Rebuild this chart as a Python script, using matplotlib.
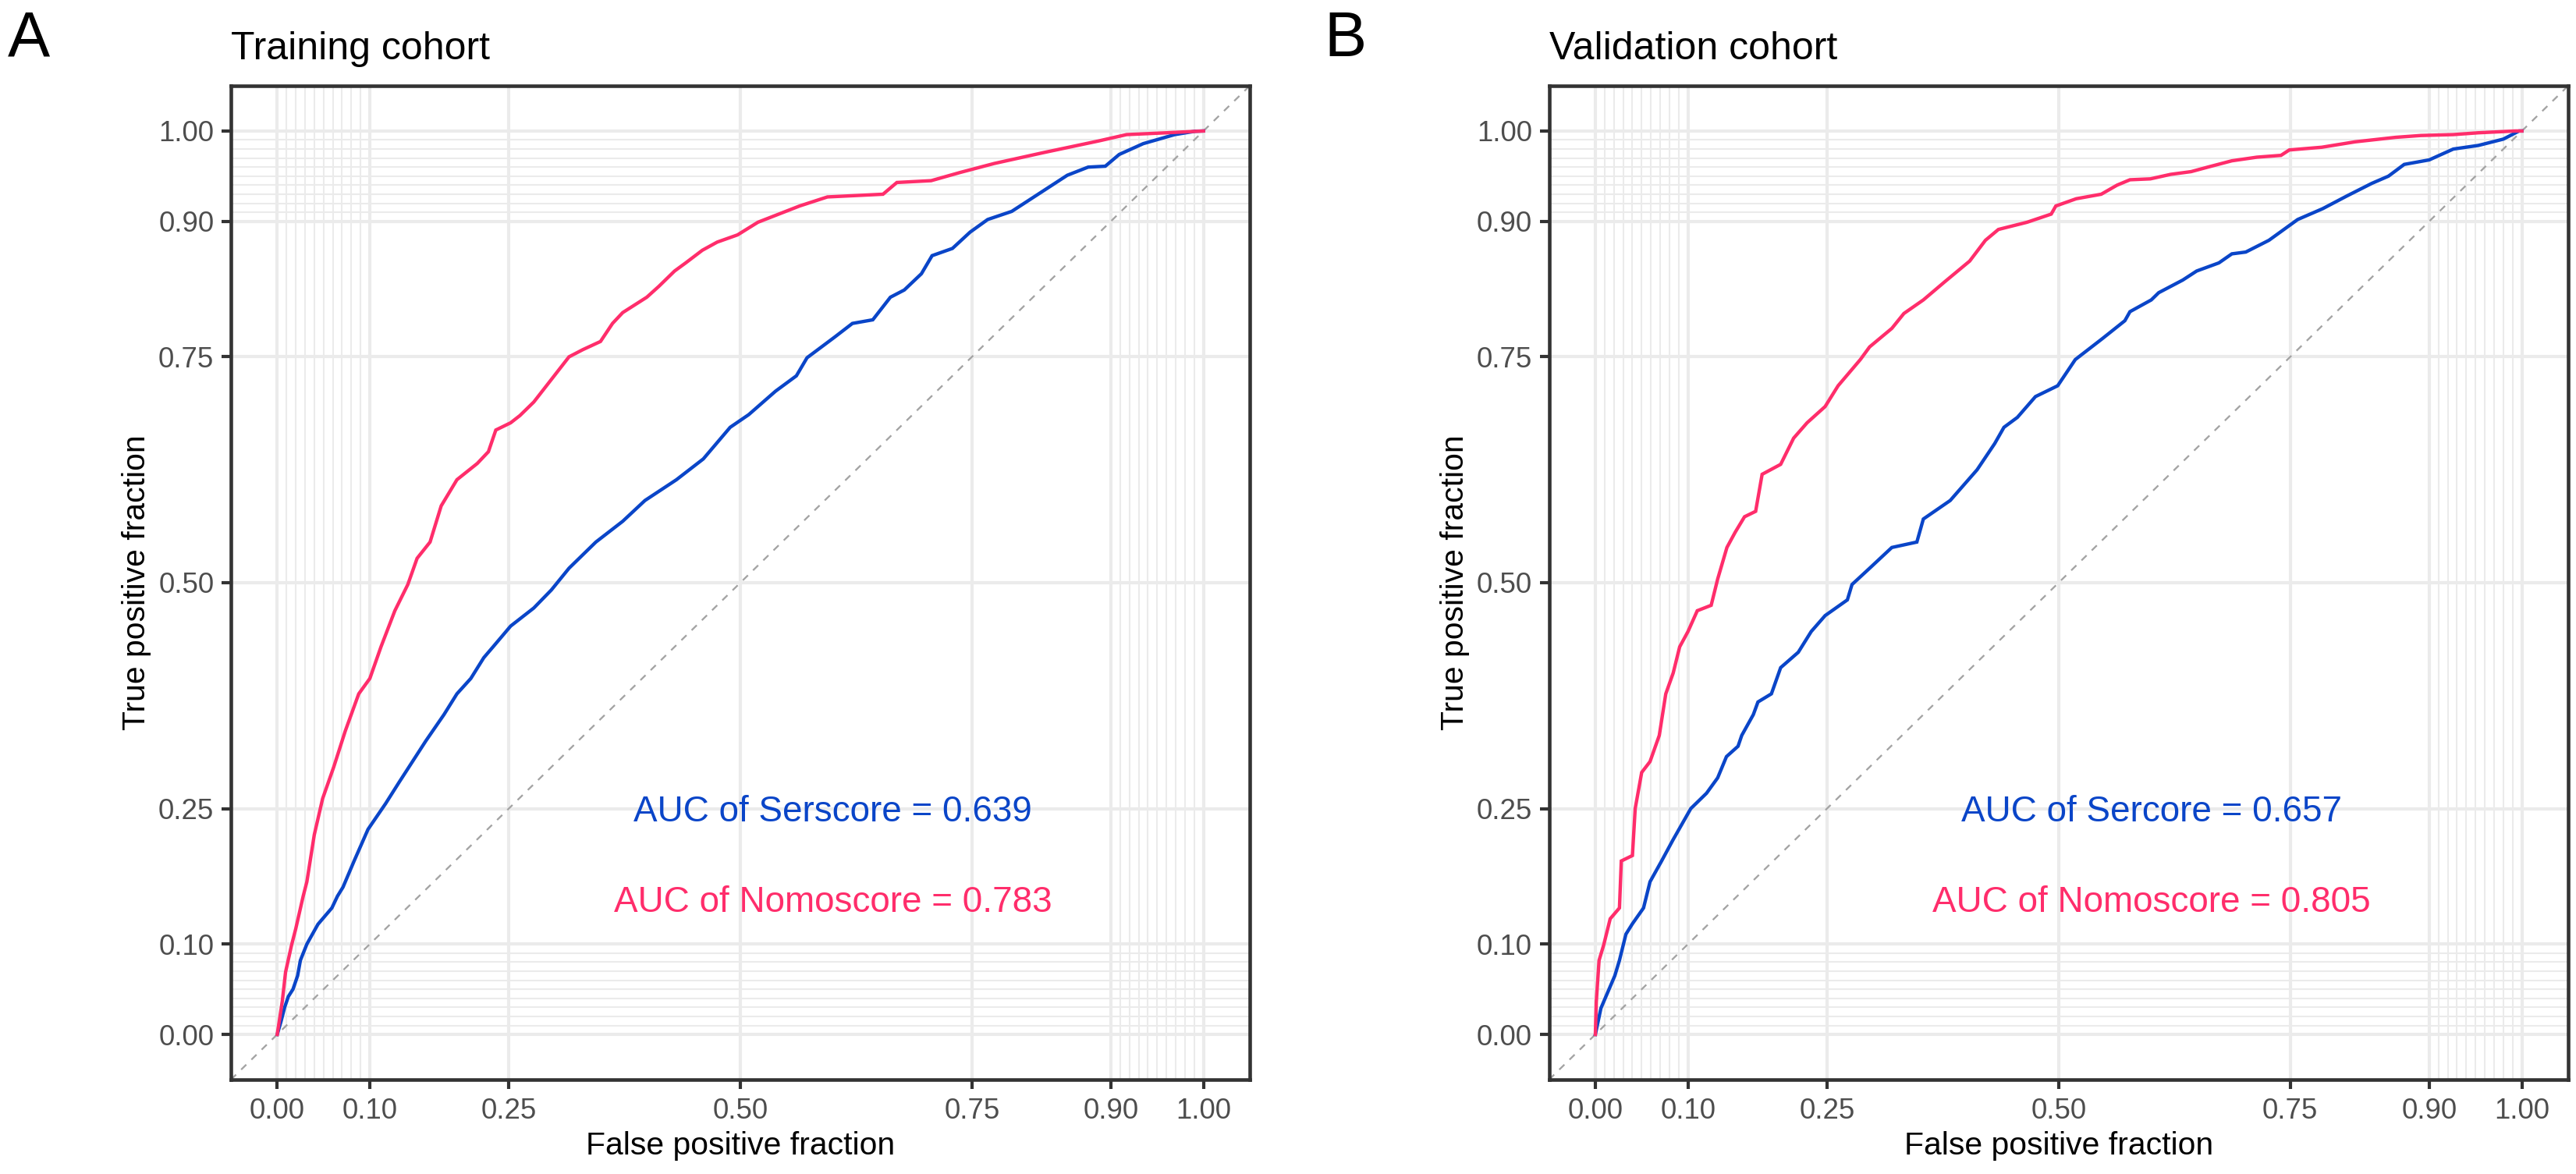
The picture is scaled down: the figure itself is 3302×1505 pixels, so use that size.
import matplotlib
matplotlib.use("Agg")
import matplotlib.pyplot as plt
from matplotlib import transforms

plt.rcParams['font.family'] = ['Liberation Sans', 'DejaVu Sans']

# ---------------- data ----------------
major_breaks = [0.0, 0.10, 0.25, 0.50, 0.75, 0.90, 1.00]
tick_labels = ['0.00', '0.10', '0.25', '0.50', '0.75', '0.90', '1.00']
minor_breaks = [0.00, 0.01, 0.02, 0.03, 0.04, 0.05, 0.06, 0.07, 0.08, 0.09, 0.10,
                0.90, 0.91, 0.92, 0.93, 0.94, 0.95, 0.96, 0.97, 0.98, 0.99, 1.00]

panel_letters = ['A', 'B']
panel_titles = ['Training cohort', 'Validation cohort']
auc_ser_labels = ['AUC of Serscore = 0.639', 'AUC of Sercore = 0.657']
auc_nomo_labels = ['AUC of Nomoscore = 0.783', 'AUC of Nomoscore = 0.805']

# Training cohort - Nomoscore (false positive fraction, true positive fraction)
train_nomo_fpf = [0.0, 0.0055, 0.009, 0.0155, 0.020, 0.028, 0.032, 0.040, 0.049, 0.061,
                  0.0735, 0.088, 0.100, 0.112, 0.127, 0.141, 0.151, 0.165, 0.177, 0.194,
                  0.216, 0.228, 0.236, 0.252, 0.262, 0.277, 0.296, 0.315, 0.330, 0.349,
                  0.362, 0.373, 0.399, 0.412, 0.429, 0.441, 0.459, 0.475, 0.497, 0.519,
                  0.564, 0.594, 0.654, 0.669, 0.706, 0.737, 0.774, 0.827, 0.887, 0.917,
                  0.960, 1.0]
train_nomo_tpf = [0.0, 0.037, 0.069, 0.099, 0.117, 0.153, 0.169, 0.221, 0.261, 0.296,
                  0.336, 0.377, 0.394, 0.429, 0.469, 0.498, 0.527, 0.545, 0.585, 0.614,
                  0.632, 0.645, 0.669, 0.677, 0.685, 0.700, 0.725, 0.750, 0.758, 0.767,
                  0.787, 0.799, 0.816, 0.828, 0.845, 0.854, 0.868, 0.877, 0.885, 0.899,
                  0.917, 0.927, 0.930, 0.943, 0.945, 0.954, 0.964, 0.976, 0.989, 0.996,
                  0.998, 1.0]

# Training cohort - Serscore
train_ser_fpf = [0.0, 0.004, 0.008, 0.012, 0.017, 0.022, 0.025, 0.032, 0.044, 0.059,
                 0.065, 0.071, 0.083, 0.098, 0.117, 0.1315, 0.146, 0.1605, 0.180, 0.194,
                 0.209, 0.223, 0.233, 0.252, 0.277, 0.296, 0.315, 0.344, 0.373, 0.397,
                 0.431, 0.460, 0.489, 0.509, 0.538, 0.5605, 0.572, 0.602, 0.621, 0.643,
                 0.662, 0.677, 0.6955, 0.707, 0.729, 0.748, 0.767, 0.793, 0.823, 0.853,
                 0.8755, 0.894, 0.909, 0.935, 0.969, 0.991, 1.0]
train_ser_tpf = [0.0, 0.014, 0.030, 0.042, 0.050, 0.065, 0.082, 0.100, 0.122, 0.140,
                 0.153, 0.163, 0.192, 0.227, 0.2555, 0.279, 0.302, 0.325, 0.354, 0.377,
                 0.394, 0.417, 0.429, 0.452, 0.472, 0.492, 0.516, 0.545, 0.568, 0.591,
                 0.614, 0.637, 0.672, 0.686, 0.712, 0.729, 0.749, 0.772, 0.787, 0.791,
                 0.816, 0.824, 0.842, 0.862, 0.870, 0.888, 0.902, 0.911, 0.931, 0.951,
                 0.960, 0.961, 0.974, 0.986, 0.996, 0.9997, 1.0]

# Validation cohort - Nomoscore
valid_nomo_fpf = [0.0, 0.001, 0.004, 0.009, 0.016, 0.026, 0.028, 0.040, 0.043, 0.050,
                  0.059, 0.069, 0.076, 0.084, 0.091, 0.100, 0.110, 0.125, 0.132, 0.142,
                  0.151, 0.161, 0.173, 0.180, 0.200, 0.214, 0.2285, 0.248, 0.262, 0.286,
                  0.296, 0.320, 0.333, 0.354, 0.377, 0.404, 0.421, 0.435, 0.466, 0.492,
                  0.497, 0.519, 0.546, 0.563, 0.577, 0.599, 0.621, 0.643, 0.661, 0.687,
                  0.714, 0.740, 0.749, 0.784, 0.820, 0.864, 0.891, 0.926, 0.953, 0.993,
                  1.0]
valid_nomo_tpf = [0.0, 0.036, 0.082, 0.099, 0.128, 0.140, 0.192, 0.198, 0.250, 0.290,
                  0.302, 0.331, 0.377, 0.400, 0.429, 0.446, 0.469, 0.475, 0.504, 0.539,
                  0.556, 0.573, 0.579, 0.620, 0.631, 0.660, 0.677, 0.695, 0.718, 0.747,
                  0.761, 0.7815, 0.798, 0.813, 0.833, 0.856, 0.879, 0.891, 0.899, 0.908,
                  0.917, 0.925, 0.930, 0.940, 0.946, 0.947, 0.952, 0.955, 0.960, 0.967,
                  0.971, 0.973, 0.979, 0.982, 0.988, 0.993, 0.995, 0.996, 0.998, 1.0,
                  1.0]

# Validation cohort - Sercore
valid_ser_fpf = [0.0, 0.006, 0.016, 0.021, 0.026, 0.033, 0.040, 0.052, 0.059, 0.0715,
                 0.0836, 0.103, 0.120, 0.132, 0.1415, 0.154, 0.158, 0.1705, 0.1755, 0.190,
                 0.200, 0.219, 0.233, 0.248, 0.272, 0.277, 0.296, 0.320, 0.347, 0.354,
                 0.383, 0.412, 0.431, 0.441, 0.4555, 0.475, 0.499, 0.518, 0.547, 0.5715,
                 0.577, 0.600, 0.608, 0.634, 0.649, 0.673, 0.687, 0.702, 0.727, 0.758,
                 0.785, 0.811, 0.838, 0.856, 0.873, 0.900, 0.926, 0.953, 0.980, 0.997,
                 1.0]
valid_ser_tpf = [0.0, 0.029, 0.053, 0.065, 0.082, 0.111, 0.1225, 0.140, 0.169, 0.192,
                 0.215, 0.250, 0.267, 0.284, 0.3075, 0.319, 0.331, 0.354, 0.368, 0.377,
                 0.406, 0.423, 0.446, 0.4636, 0.481, 0.498, 0.516, 0.539, 0.545, 0.5705,
                 0.591, 0.625, 0.654, 0.672, 0.683, 0.706, 0.718, 0.747, 0.770, 0.790,
                 0.800, 0.813, 0.821, 0.835, 0.845, 0.854, 0.864, 0.866, 0.879, 0.902,
                 0.914, 0.928, 0.942, 0.950, 0.963, 0.968, 0.980, 0.984, 0.991, 1.0,
                 1.0]

curves = [
    ((train_ser_fpf, train_ser_tpf), (train_nomo_fpf, train_nomo_tpf)),
    ((valid_ser_fpf, valid_ser_tpf), (valid_nomo_fpf, valid_nomo_tpf)),
]

# ---------------- style ----------------
W, H, DPI = 3302, 1505, 300
BLUE = '#0A45C8'
RED = '#FF2D6B'
GRID = '#EBEBEB'
DARK = '#333333'
TICKTXT = '#4D4D4D'

fig = plt.figure(figsize=(W / DPI, H / DPI), dpi=DPI)
fig.patch.set_facecolor('white')

panel_left_px = [296, 1985.6]
panel_right_px = [1602, 3292]
panel_top_px, panel_bot_px = 110, 1384


def px(x, y):
    return x / W, 1 - y / H


for i in range(2):
    l, r = panel_left_px[i], panel_right_px[i]
    ax = fig.add_axes([l / W, 1 - panel_bot_px / H, (r - l) / W,
                       (panel_bot_px - panel_top_px) / H])
    ax.set_xlim(-0.05, 1.05)
    ax.set_ylim(-0.05, 1.05)
    ax.set_facecolor('white')

    # grid
    for v in minor_breaks:
        ax.axvline(v, color=GRID, lw=0.5, zorder=0.5)
        ax.axhline(v, color=GRID, lw=0.5, zorder=0.5)
    for v in major_breaks:
        ax.axvline(v, color=GRID, lw=1.0, zorder=0.6)
        ax.axhline(v, color=GRID, lw=1.0, zorder=0.6)

    # diagonal reference
    ax.axline((0, 0), slope=1, color='#A3A3A3', lw=0.55,
              linestyle=(0, (4, 4)), zorder=1)

    (sf, st), (nf, nt) = curves[i]
    ax.plot(sf, st, color=BLUE, lw=1.05, zorder=3, solid_joinstyle='miter')
    ax.plot(nf, nt, color=RED, lw=1.05, zorder=3, solid_joinstyle='miter')

    # AUC annotations (text centred at given data position)
    off = transforms.offset_copy(ax.transData, fig=fig, x=0, y=-16.5, units='dots')
    ax.text(0.6, 0.25, auc_ser_labels[i], color=BLUE, fontsize=11,
            ha='center', va='baseline', transform=off, zorder=4)
    ax.text(0.6, 0.15, auc_nomo_labels[i], color=RED, fontsize=11,
            ha='center', va='baseline', transform=off, zorder=4)

    ax.set_xticks(major_breaks)
    ax.set_xticklabels(tick_labels)
    ax.set_yticks(major_breaks)
    ax.set_yticklabels(tick_labels)
    ax.tick_params(axis='both', which='major', length=2.9, width=1.0, color=DARK,
                   labelsize=8.8, labelcolor=TICKTXT)
    ax.tick_params(axis='x', pad=2.6)
    ax.tick_params(axis='y', pad=2.3)
    for s in ax.spines.values():
        s.set_linewidth(1.1)
        s.set_color(DARK)
        s.set_zorder(5)

    # title and panel letter
    fig.text(*px(l, 76), panel_titles[i], fontsize=12, ha='left', va='baseline',
             color='black')
    letter_x = 10 if i == 0 else 1697
    fig.text(*px(letter_x, 72), panel_letters[i], fontsize=19.5, ha='left',
             va='baseline', color='black')

    # axis titles
    fig.text(*px((l + r) / 2, 1480), 'False positive fraction', fontsize=9.8,
             ha='center', va='baseline', color='black')
    fig.text(*px(l - 110, (panel_top_px + panel_bot_px) / 2), 'True positive fraction',
             fontsize=9.8, rotation=90, rotation_mode='anchor', ha='center',
             va='baseline', color='black')

fig.savefig('out.png', dpi=DPI, facecolor='white')
